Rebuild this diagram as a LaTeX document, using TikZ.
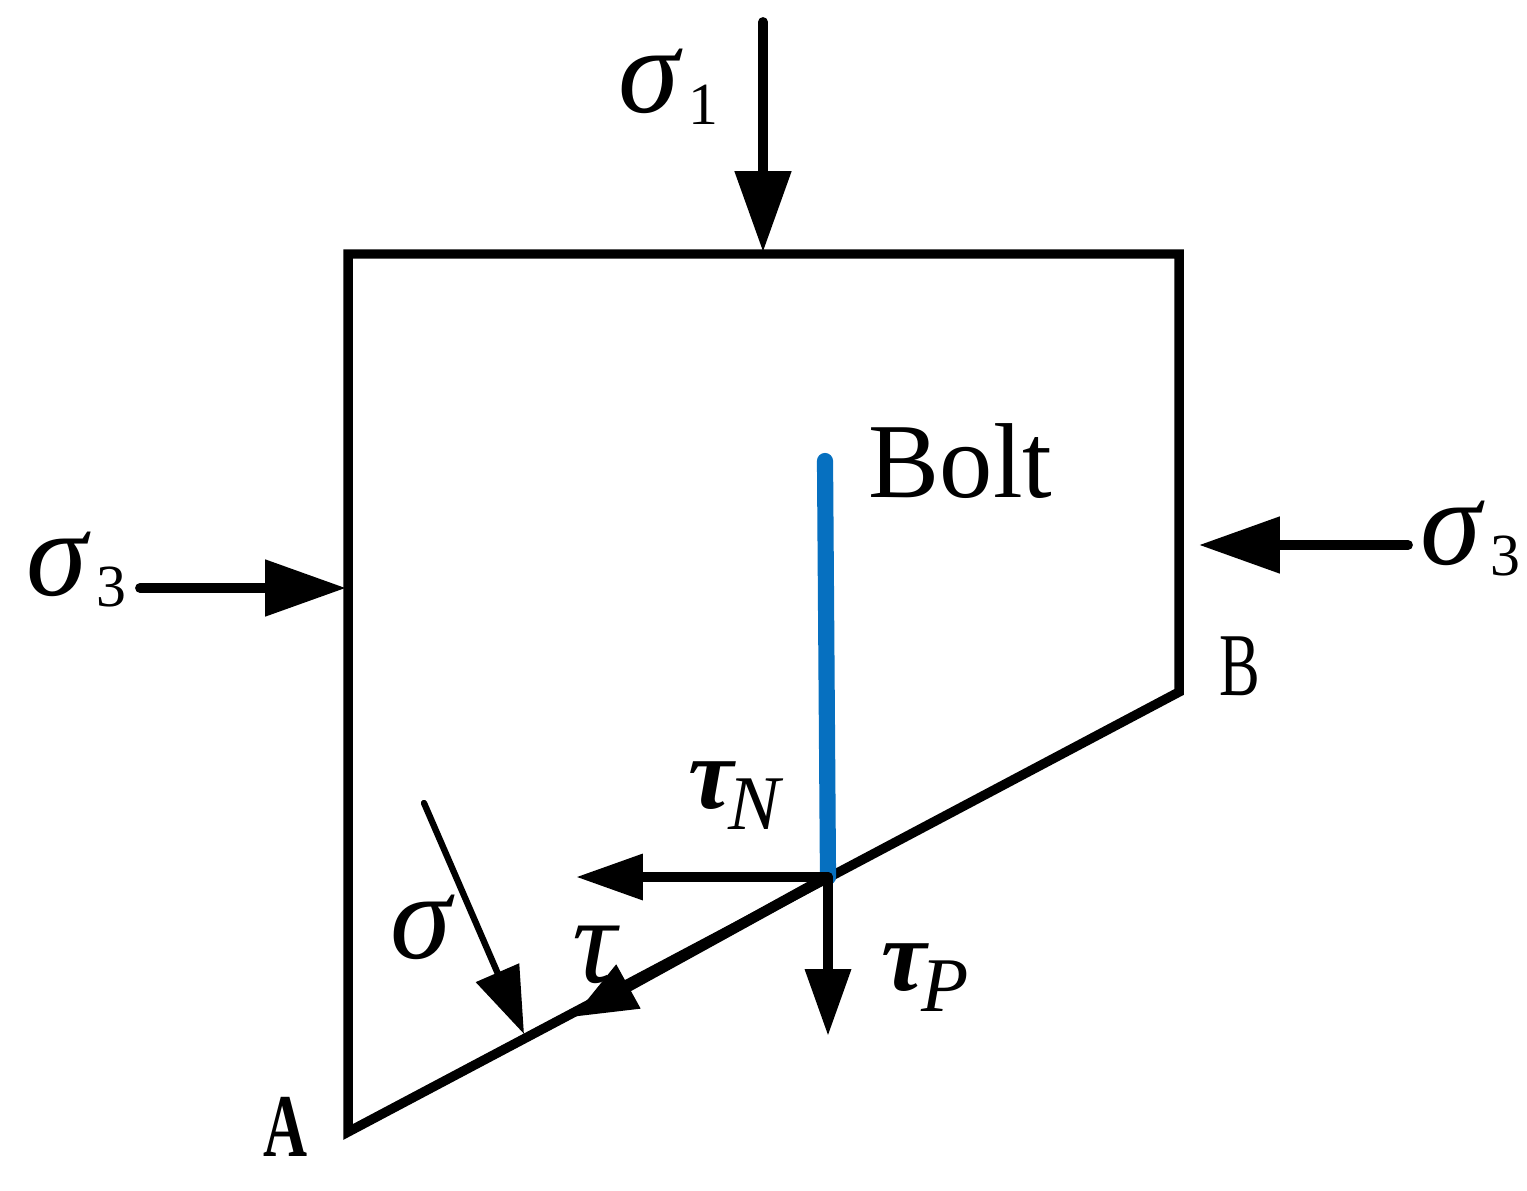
\documentclass[tikz,border=0pt]{standalone}
\usepackage{fontspec}
\setmainfont{Liberation Serif}
\usetikzlibrary{arrows.meta}
\definecolor{boltblue}{RGB}{6,112,192}
\tikzset{
	wall/.style={line width=2.7pt},
	load/.style={line width=2.8pt,line cap=round,-{Triangle[length=23pt,width=15.5pt]}},
	small load/.style={line width=2.8pt,line cap=round,-{Triangle[length=19pt,width=12.5pt]}},
	shear load/.style={line width=3pt,line cap=round,-{Triangle[length=18pt,width=13.5pt]}},
	thin load/.style={line width=1.8pt,line cap=round,-{Triangle[length=19pt,width=13pt]}},
	bolt/.style={line width=4.6pt,color=boltblue,line cap=round},
	label/.style={inner sep=0pt,anchor=base west},
	corner/.style={inner sep=0pt,font=\fontsize{25.5}{25.5}\selectfont,xscale=0.68}
}
\def\sig#1{{\fontsize{35}{35}\selectfont\itshape σ}\kern2.5pt\raisebox{-3.3pt}{\fontsize{17}{17}\selectfont #1}}
\def\tauf#1{{\fontsize{29}{29}\selectfont\bfseries\itshape τ}\kern-1.5pt\raisebox{-6pt}{\fontsize{22}{22}\selectfont\itshape #1}}
\begin{document}
\begin{tikzpicture}[x=0.01cm,y=-0.01cm]
\useasboundingbox (0,0) rectangle (1527,1191);
% block
\coordinate (tl) at (348,254);
\coordinate (tr) at (1179,254);
\coordinate (br) at (1179,692);
\coordinate (bl) at (348,1132);
\draw[wall] (tl) -- (tr) -- (br) -- (bl) -- cycle;
% bolt
\coordinate (bolttop) at (825,461);
\coordinate (boltend) at (828,877);
\draw[bolt] (bolttop) -- (boltend);
% outer loads
\coordinate (s1a) at (763,22);
\coordinate (s1b) at (763,252);
\coordinate (s3la) at (140,588);
\coordinate (s3lb) at (346,588);
\coordinate (s3ra) at (1408,545);
\coordinate (s3rb) at (1199,545);
\draw[load] (s1a) -- (s1b);
\draw[load] (s3la) -- (s3lb);
\draw[load] (s3ra) -- (s3rb);
% loads on the plane
\coordinate (sa) at (424,803);
\coordinate (sb) at (524,1034);
\coordinate (ta) at (820,881);
\coordinate (tb) at (573,1017);
\coordinate (tn) at (576,877);
\coordinate (tp) at (828,1036);
\draw[thin load] (sa) -- (sb);
\draw[shear load] (ta) -- (tb);
\draw[small load] (boltend) -- (tn);
\draw[small load] (boltend) -- (tp);
% labels
\node[label] (ls1) at (618,113) {\sig{1}};
\node[label] (ls3l) at (26,595) {\sig{3}};
\node[label] (ls3r) at (1420,564) {\sig{3}};
\node[label] (lbolt) at (868,497) {\fontsize{30.3}{30.3}\selectfont Bolt};
\node[label] (ltn) at (688,808) {\tauf{N}};
\node[label] (ltp) at (881,990) {\tauf{P}};
\node[label] (lsig) at (390,958) {\fontsize{35}{35}\selectfont\itshape σ};
\node[label] (ltau) at (572,982) {\fontsize{35}{35}\selectfont\itshape τ};
\node[corner] (la) at (285.5,1126.5) {\bfseries A};
\node[corner] (lb) at (1240,666) {B};
\end{tikzpicture}
\end{document}
